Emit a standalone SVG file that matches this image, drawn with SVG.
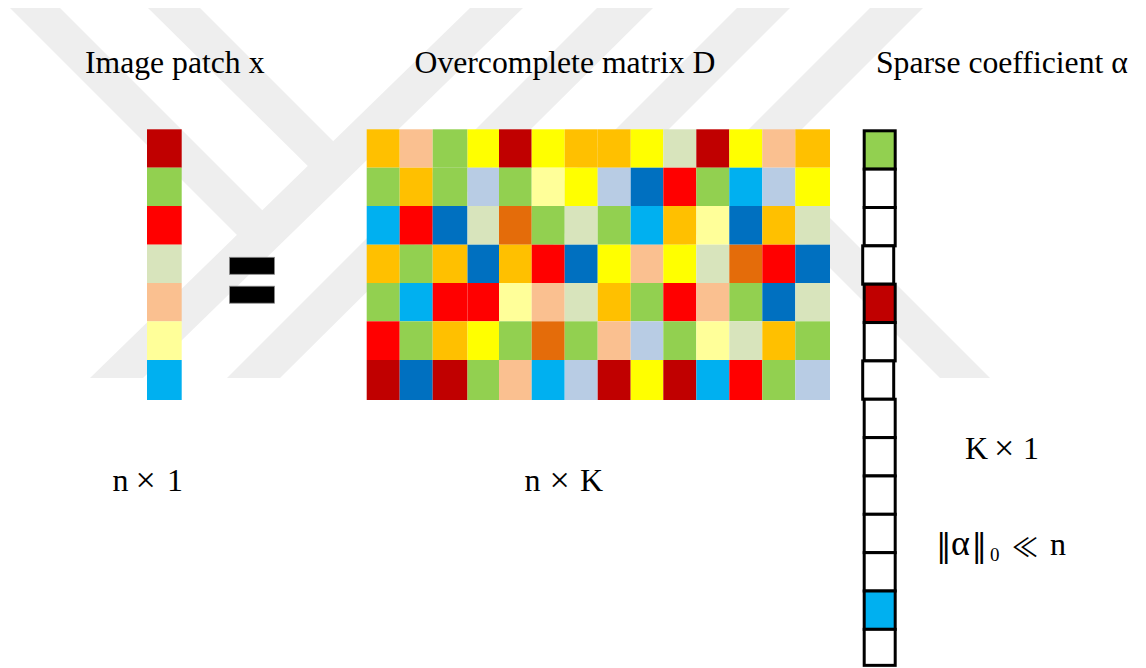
<svg xmlns="http://www.w3.org/2000/svg" width="1146" height="668" viewBox="0 0 1146 668">
  <style>
    .wm { fill: #EEEEEE; }
    .title { font-family: "Liberation Serif", "Times New Roman", serif; font-size: 31.7px; fill: #000; }
    .math { font-family: "Liberation Serif", "DejaVu Serif", serif; font-size: 32px; fill: #000; }
    .times { font-size: 36px; }
    .bars { font-family: "DejaVu Serif", serif; font-size: 31px; }
    .much { font-family: "Noto Sans CJK JP", "DejaVu Serif", sans-serif; font-size: 26px; }
    .slot { stroke: #000; stroke-width: 3; }
    .O { fill: #FFC000; } .P { fill: #FAC090; } .G { fill: #92D050; } .Y { fill: #FFFF00; }
    .R { fill: #C00000; } .L { fill: #D8E4BC; } .B { fill: #B8CCE4; } .U { fill: #0070C0; }
    .C { fill: #00B0F0; } .E { fill: #FF0000; } .W { fill: #FFFF99; } .D { fill: #E46C0A; }
    .Z { fill: #FFFFFF; }
  </style>

  <rect width="1146" height="668" fill="#FFFFFF"/>

  <!-- faint background emblem -->
  <g id="watermark">
    <polygon class="wm" points="10,8 60,8 280,228 255,253"/>
    <polygon class="wm" points="148,8 200,8 350,158 325,183"/>
    <polygon class="wm" points="470,8 523,8 143,378 90,378"/>
    <polygon class="wm" points="597,8 653,8 280,378 227,378"/>
    <polygon class="wm" points="737,8 790,8 548,250 495,250"/>
    <polygon class="wm" points="870,8 923,8 681,250 628,250"/>
    <polygon class="wm" points="762,200 812,200 990,378 940,378"/>
  </g>

  <!-- titles -->
  <g id="titles">
    <text class="title" x="85" y="73.3">Image patch x</text>
    <text class="title" x="414.5" y="73.3">Overcomplete matrix D</text>
    <text class="title" x="876" y="73.3">Sparse coefficient α</text>
  </g>

  <!-- signal column x (n x 1) -->
  <g id="patch-x">
    <rect class="R" x="147" y="129.3" width="34.7" height="38.4"/>
    <rect class="G" x="147" y="167.7" width="34.7" height="38.3"/>
    <rect class="E" x="147" y="206" width="34.7" height="38.7"/>
    <rect class="L" x="147" y="244.7" width="34.7" height="38.3"/>
    <rect class="P" x="147" y="283" width="34.7" height="38.3"/>
    <rect class="W" x="147" y="321.3" width="34.7" height="38.7"/>
    <rect class="C" x="147" y="360" width="34.7" height="40"/>
  </g>

  <!-- equals sign -->
  <g id="equals" fill="#000" stroke="#8a8a8a" stroke-width="0.8">
    <rect x="229.5" y="257.3" width="45" height="17"/>
    <rect x="229.5" y="286.2" width="45" height="17"/>
  </g>

  <!-- dictionary D (n x K) -->
  <g id="matrix-D">
    <!-- row 1 -->
    <rect class="O" x="366.7" y="129.3" width="33.0" height="38.4"/>
    <rect class="P" x="399.7" y="129.3" width="33.0" height="38.4"/>
    <rect class="G" x="432.7" y="129.3" width="34.8" height="38.4"/>
    <rect class="Y" x="467.5" y="129.3" width="31.5" height="38.4"/>
    <rect class="R" x="499.0" y="129.3" width="32.7" height="38.4"/>
    <rect class="Y" x="531.7" y="129.3" width="33.0" height="38.4"/>
    <rect class="O" x="564.7" y="129.3" width="33.0" height="38.4"/>
    <rect class="O" x="597.7" y="129.3" width="33.0" height="38.4"/>
    <rect class="Y" x="630.7" y="129.3" width="32.6" height="38.4"/>
    <rect class="L" x="663.3" y="129.3" width="33.0" height="38.4"/>
    <rect class="R" x="696.3" y="129.3" width="33.0" height="38.4"/>
    <rect class="Y" x="729.3" y="129.3" width="33.0" height="38.4"/>
    <rect class="P" x="762.3" y="129.3" width="33.0" height="38.4"/>
    <rect class="O" x="795.3" y="129.3" width="34.7" height="38.4"/>
    <!-- row 2 -->
    <rect class="G" x="366.7" y="167.7" width="33.0" height="38.3"/>
    <rect class="O" x="399.7" y="167.7" width="33.0" height="38.3"/>
    <rect class="G" x="432.7" y="167.7" width="34.8" height="38.3"/>
    <rect class="B" x="467.5" y="167.7" width="31.5" height="38.3"/>
    <rect class="G" x="499.0" y="167.7" width="32.7" height="38.3"/>
    <rect class="W" x="531.7" y="167.7" width="33.0" height="38.3"/>
    <rect class="Y" x="564.7" y="167.7" width="33.0" height="38.3"/>
    <rect class="B" x="597.7" y="167.7" width="33.0" height="38.3"/>
    <rect class="U" x="630.7" y="167.7" width="32.6" height="38.3"/>
    <rect class="E" x="663.3" y="167.7" width="33.0" height="38.3"/>
    <rect class="G" x="696.3" y="167.7" width="33.0" height="38.3"/>
    <rect class="C" x="729.3" y="167.7" width="33.0" height="38.3"/>
    <rect class="B" x="762.3" y="167.7" width="33.0" height="38.3"/>
    <rect class="Y" x="795.3" y="167.7" width="34.7" height="38.3"/>
    <!-- row 3 -->
    <rect class="C" x="366.7" y="206" width="33.0" height="38.7"/>
    <rect class="E" x="399.7" y="206" width="33.0" height="38.7"/>
    <rect class="U" x="432.7" y="206" width="34.8" height="38.7"/>
    <rect class="L" x="467.5" y="206" width="31.5" height="38.7"/>
    <rect class="D" x="499.0" y="206" width="32.7" height="38.7"/>
    <rect class="G" x="531.7" y="206" width="33.0" height="38.7"/>
    <rect class="L" x="564.7" y="206" width="33.0" height="38.7"/>
    <rect class="G" x="597.7" y="206" width="33.0" height="38.7"/>
    <rect class="C" x="630.7" y="206" width="32.6" height="38.7"/>
    <rect class="O" x="663.3" y="206" width="33.0" height="38.7"/>
    <rect class="W" x="696.3" y="206" width="33.0" height="38.7"/>
    <rect class="U" x="729.3" y="206" width="33.0" height="38.7"/>
    <rect class="O" x="762.3" y="206" width="33.0" height="38.7"/>
    <rect class="L" x="795.3" y="206" width="34.7" height="38.7"/>
    <!-- row 4 -->
    <rect class="O" x="366.7" y="244.7" width="33.0" height="38.3"/>
    <rect class="G" x="399.7" y="244.7" width="33.0" height="38.3"/>
    <rect class="O" x="432.7" y="244.7" width="34.8" height="38.3"/>
    <rect class="U" x="467.5" y="244.7" width="31.5" height="38.3"/>
    <rect class="O" x="499.0" y="244.7" width="32.7" height="38.3"/>
    <rect class="E" x="531.7" y="244.7" width="33.0" height="38.3"/>
    <rect class="U" x="564.7" y="244.7" width="33.0" height="38.3"/>
    <rect class="Y" x="597.7" y="244.7" width="33.0" height="38.3"/>
    <rect class="P" x="630.7" y="244.7" width="32.6" height="38.3"/>
    <rect class="Y" x="663.3" y="244.7" width="33.0" height="38.3"/>
    <rect class="L" x="696.3" y="244.7" width="33.0" height="38.3"/>
    <rect class="D" x="729.3" y="244.7" width="33.0" height="38.3"/>
    <rect class="E" x="762.3" y="244.7" width="33.0" height="38.3"/>
    <rect class="U" x="795.3" y="244.7" width="34.7" height="38.3"/>
    <!-- row 5 -->
    <rect class="G" x="366.7" y="283" width="33.0" height="38.3"/>
    <rect class="C" x="399.7" y="283" width="33.0" height="38.3"/>
    <rect class="E" x="432.7" y="283" width="34.8" height="38.3"/>
    <rect class="E" x="467.5" y="283" width="31.5" height="38.3"/>
    <rect class="W" x="499.0" y="283" width="32.7" height="38.3"/>
    <rect class="P" x="531.7" y="283" width="33.0" height="38.3"/>
    <rect class="L" x="564.7" y="283" width="33.0" height="38.3"/>
    <rect class="O" x="597.7" y="283" width="33.0" height="38.3"/>
    <rect class="G" x="630.7" y="283" width="32.6" height="38.3"/>
    <rect class="E" x="663.3" y="283" width="33.0" height="38.3"/>
    <rect class="P" x="696.3" y="283" width="33.0" height="38.3"/>
    <rect class="G" x="729.3" y="283" width="33.0" height="38.3"/>
    <rect class="U" x="762.3" y="283" width="33.0" height="38.3"/>
    <rect class="L" x="795.3" y="283" width="34.7" height="38.3"/>
    <!-- row 6 -->
    <rect class="E" x="366.7" y="321.3" width="33.0" height="38.7"/>
    <rect class="G" x="399.7" y="321.3" width="33.0" height="38.7"/>
    <rect class="O" x="432.7" y="321.3" width="34.8" height="38.7"/>
    <rect class="Y" x="467.5" y="321.3" width="31.5" height="38.7"/>
    <rect class="G" x="499.0" y="321.3" width="32.7" height="38.7"/>
    <rect class="D" x="531.7" y="321.3" width="33.0" height="38.7"/>
    <rect class="G" x="564.7" y="321.3" width="33.0" height="38.7"/>
    <rect class="P" x="597.7" y="321.3" width="33.0" height="38.7"/>
    <rect class="B" x="630.7" y="321.3" width="32.6" height="38.7"/>
    <rect class="G" x="663.3" y="321.3" width="33.0" height="38.7"/>
    <rect class="W" x="696.3" y="321.3" width="33.0" height="38.7"/>
    <rect class="L" x="729.3" y="321.3" width="33.0" height="38.7"/>
    <rect class="O" x="762.3" y="321.3" width="33.0" height="38.7"/>
    <rect class="G" x="795.3" y="321.3" width="34.7" height="38.7"/>
    <!-- row 7 -->
    <rect class="R" x="366.7" y="360" width="33.0" height="40"/>
    <rect class="U" x="399.7" y="360" width="33.0" height="40"/>
    <rect class="R" x="432.7" y="360" width="34.8" height="40"/>
    <rect class="G" x="467.5" y="360" width="31.5" height="40"/>
    <rect class="P" x="499.0" y="360" width="32.7" height="40"/>
    <rect class="C" x="531.7" y="360" width="33.0" height="40"/>
    <rect class="B" x="564.7" y="360" width="33.0" height="40"/>
    <rect class="R" x="597.7" y="360" width="33.0" height="40"/>
    <rect class="Y" x="630.7" y="360" width="32.6" height="40"/>
    <rect class="R" x="663.3" y="360" width="33.0" height="40"/>
    <rect class="C" x="696.3" y="360" width="33.0" height="40"/>
    <rect class="E" x="729.3" y="360" width="33.0" height="40"/>
    <rect class="G" x="762.3" y="360" width="33.0" height="40"/>
    <rect class="B" x="795.3" y="360" width="34.7" height="40"/>
  </g>

  <!-- sparse code alpha (K x 1) -->
  <g id="alpha">
    <rect class="slot G" x="864.2" y="130.8" width="31" height="38.35"/>
    <rect class="slot Z" x="864.2" y="169.15" width="31" height="38.35"/>
    <rect class="slot Z" x="864.2" y="207.5" width="31" height="38.35"/>
    <rect class="slot Z" x="862.7" y="245.85" width="31" height="38.35"/>
    <rect class="slot R" x="864.2" y="284.2" width="31" height="38.35"/>
    <rect class="slot Z" x="864.2" y="322.55" width="31" height="38.35"/>
    <rect class="slot Z" x="862.7" y="360.9" width="31" height="38.35"/>
    <rect class="slot Z" x="864.2" y="399.25" width="31" height="38.35"/>
    <rect class="slot Z" x="864.2" y="437.6" width="31" height="38.35"/>
    <rect class="slot Z" x="864.2" y="475.95" width="31" height="38.35"/>
    <rect class="slot Z" x="864.2" y="514.3" width="31" height="38.35"/>
    <rect class="slot Z" x="864.2" y="552.65" width="31" height="38.35"/>
    <rect class="slot C" x="864.2" y="591.0" width="31" height="38.35"/>
    <rect class="slot Z" x="864.2" y="629.35" width="31" height="36"/>
  </g>

  <!-- dimension and sparsity labels -->
  <g id="dims">
    <text class="math" y="490.7"><tspan x="112.4">n</tspan><tspan class="times" x="135.5" y="492">×</tspan><tspan x="167" y="490.7">1</tspan></text>
    <text class="math" y="490.7"><tspan x="524.5">n</tspan><tspan class="times" x="549.5" y="492">×</tspan><tspan x="580" y="490.7">K</tspan></text>
    <text class="math" y="459"><tspan x="965">K</tspan><tspan class="times" x="994" y="460.3">×</tspan><tspan x="1023" y="459">1</tspan></text>
    <text class="math" y="554.7"><tspan class="bars" x="936" y="556">‖</tspan><tspan x="951" y="554.7" font-size="36">α</tspan><tspan class="bars" x="971.5" y="556">‖</tspan><tspan x="990" y="561" font-size="19">0</tspan><tspan class="much" x="1012" y="557">≪</tspan><tspan x="1050" y="554.7">n</tspan></text>
  </g>
</svg>
